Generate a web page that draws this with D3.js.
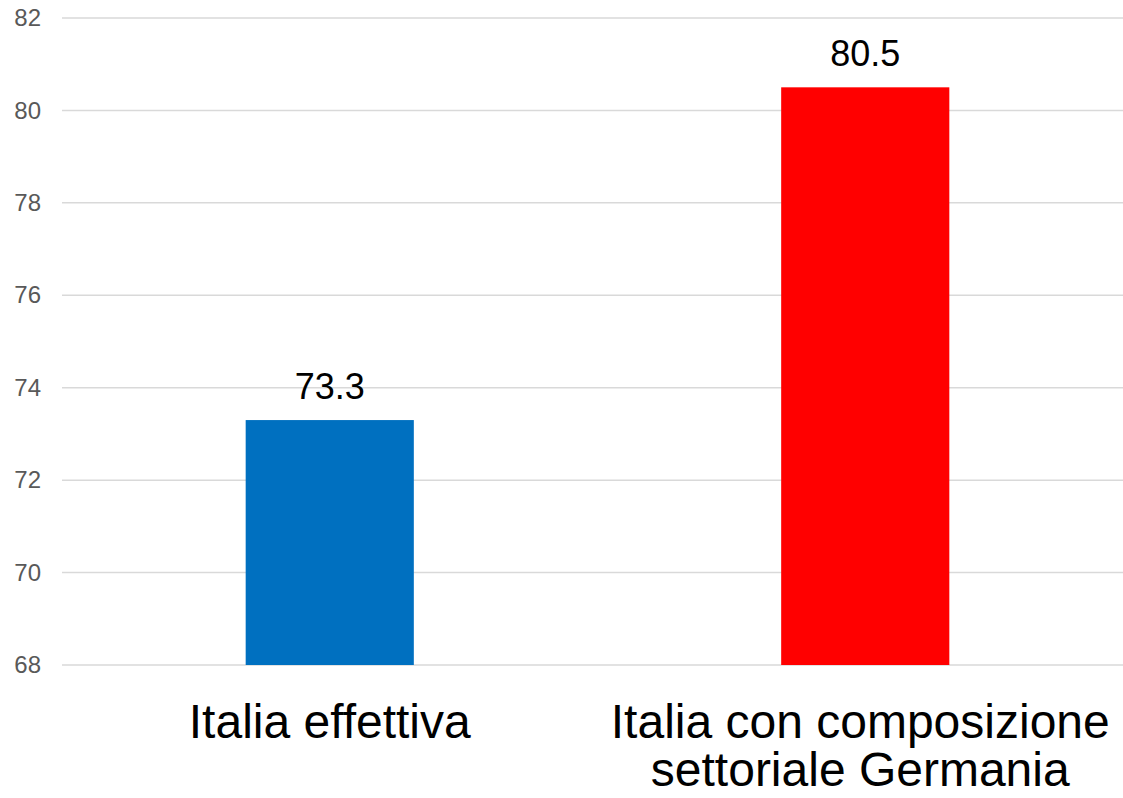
<!DOCTYPE html>
<html>
<head>
<meta charset="utf-8">
<script src="https://cdn.jsdelivr.net/npm/d3@7"></script>
<style>
  html, body { margin: 0; padding: 0; background: #ffffff; }
  svg { display: block; font-family: "Liberation Sans", Arial, sans-serif; }
</style>
</head>
<body>
<svg id="chart" width="1123" height="798"></svg>
<script>
// Categories (each label may span several lines)
const categories = ["Italia effettiva", "Italia con composizione settoriale Germania"];
const categoryLines = [["Italia effettiva"], ["Italia con composizione", "settoriale Germania"]];
const values = [73.3, 80.5];
const barColors = ["#0070c0", "#ff0000"];
const yTicks = [68, 70, 72, 74, 76, 78, 80, 82];

const svg = d3.select("#chart");
const width = 1123;

const x = d3.scaleBand()
  .domain(categories)
  .range([62, 1133])
  .paddingInner(0.686)
  .paddingOuter(0.343);

const y = d3.scaleLinear()
  .domain([68, 82])
  .range([665, 18]);

// Horizontal gridlines
svg.append("g")
  .selectAll("line")
  .data(yTicks)
  .join("line")
  .attr("x1", 62)
  .attr("x2", width)
  .attr("y1", d => y(d))
  .attr("y2", d => y(d))
  .attr("stroke", "#d9d9d9")
  .attr("stroke-width", 1.5);

// Y axis tick labels
const yAxis = d3.axisLeft(y).tickValues(yTicks).tickSize(0).tickPadding(0);
const yg = svg.append("g")
  .attr("transform", "translate(41,0)")
  .call(yAxis);
yg.select(".domain").remove();
yg.selectAll("text")
  .attr("font-family", "'Liberation Sans', Arial, sans-serif")
  .attr("font-size", 24)
  .attr("fill", "#595959");

// Bars
svg.append("g")
  .selectAll("rect")
  .data(values)
  .join("rect")
  .attr("x", (d, i) => x(categories[i]))
  .attr("width", x.bandwidth())
  .attr("y", d => y(d))
  .attr("height", d => y(68) - y(d))
  .attr("fill", (d, i) => barColors[i]);

// Value labels
svg.append("g")
  .selectAll("text")
  .data(values)
  .join("text")
  .attr("x", (d, i) => x(categories[i]) + x.bandwidth() / 2)
  .attr("y", d => y(d) - 21)
  .attr("text-anchor", "middle")
  .attr("font-size", 36)
  .attr("fill", "#000000")
  .text(d => d.toFixed(1));

// Category labels
const cg = svg.append("g");
categories.forEach((c, i) => {
  const t = cg.append("text")
    .attr("text-anchor", "middle")
    .attr("font-size", 48)
    .attr("fill", "#000000");
  categoryLines[i].forEach((line, j) => {
    t.append("tspan")
      .attr("x", x(c) + x.bandwidth() / 2 - (i === 1 ? 5 : 0))
      .attr("y", 738 + j * 48)
      .text(line);
  });
});
</script>
</body>
</html>
